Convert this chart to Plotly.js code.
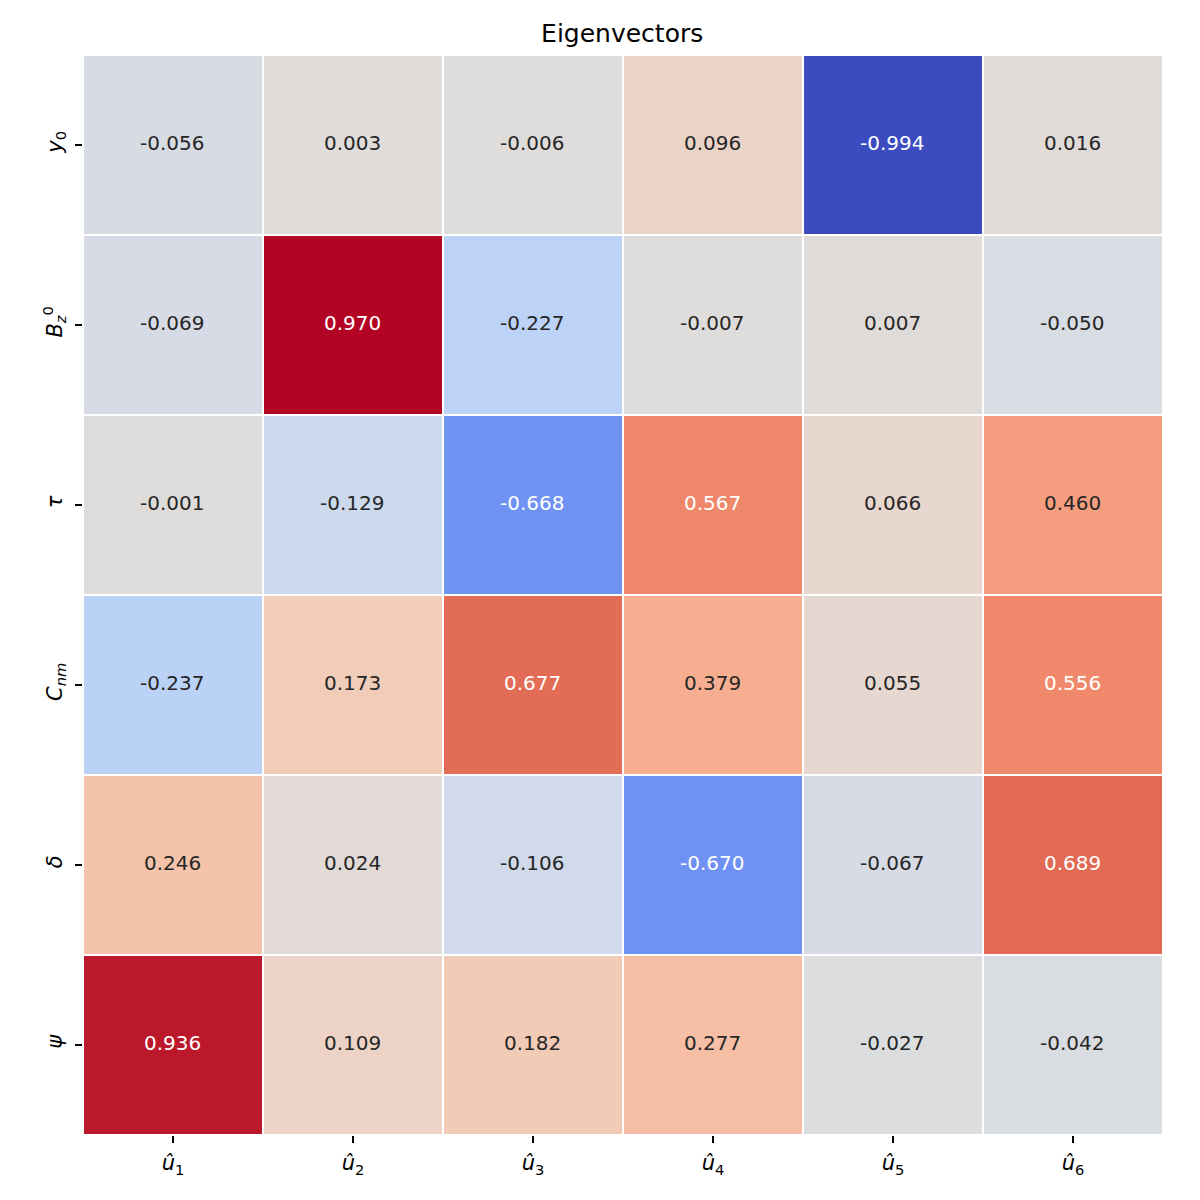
<!DOCTYPE html>
<html><head><meta charset="utf-8">
<script src="https://cdn.plot.ly/plotly-3.0.1.min.js"></script>
<style>body{margin:0;background:#fff}#c{width:1200px;height:1200px}</style>
</head><body><div id="c"></div>
<script>
const xLabels = ["<i>û</i><sub>1</sub>","<i>û</i><sub>2</sub>","<i>û</i><sub>3</sub>","<i>û</i><sub>4</sub>","<i>û</i><sub>5</sub>","<i>û</i><sub>6</sub>"];
const yLabels = ["<i>y</i><sub>0</sub>","<i>B</i><sub><i>z</i></sub><sup>0</sup>","<i>τ</i>","<i>C</i><sub><i>nm</i></sub>","<i>δ</i>","<i>ψ</i>"];
const row_y0  = [-0.056, 0.003, -0.006, 0.096, -0.994, 0.016];
const row_Bz  = [-0.069, 0.970, -0.227, -0.007, 0.007, -0.050];
const row_tau = [-0.001, -0.129, -0.668, 0.567, 0.066, 0.460];
const row_Cnm = [-0.237, 0.173, 0.677, 0.379, 0.055, 0.556];
const row_del = [0.246, 0.024, -0.106, -0.670, -0.067, 0.689];
const row_psi = [0.936, 0.109, 0.182, 0.277, -0.027, -0.042];
const z = [row_y0,row_Bz,row_tau,row_Cnm,row_del,row_psi];

const coolwarm = [[59,76,192],[68,90,204],[77,104,215],[87,117,225],[98,130,234],[108,142,241],[119,154,247],[130,165,251],[141,176,254],[152,185,255],[163,194,255],[174,201,253],[184,208,249],[194,213,244],[204,217,238],[213,219,230],[221,221,221],[229,216,209],[236,211,197],[241,204,185],[245,196,173],[247,187,160],[247,177,148],[247,166,135],[244,154,123],[241,141,111],[236,127,99],[229,112,88],[222,96,77],[213,80,66],[203,62,56],[192,40,47],[180,4,38]];
const colorscale = coolwarm.map((c,i)=>[i/(coolwarm.length-1),`rgb(${c[0]},${c[1]},${c[2]})`]);

const idx = [0,1,2,3,4,5];
const annotations = [];
z.forEach((row,i)=>row.forEach((v,j)=>{
  annotations.push({x:j,y:i,xref:'x',yref:'y',text:v.toFixed(3),showarrow:false,xshift:-1,yshift:2,
    font:{family:'DejaVu Sans',size:20,color:Math.abs(v)>0.5?'#ffffff':'#262626'}});
}));

Plotly.newPlot('c',[{type:'heatmap',z:z,x:idx,y:idx,colorscale:colorscale,showscale:false,xgap:2,ygap:2,hoverinfo:'none'}],{
  width:1200,height:1200,paper_bgcolor:'#fff',plot_bgcolor:'#fff',
  margin:{l:83,r:37,t:55,b:65},
  font:{family:'DejaVu Sans',size:20,color:'#000'},
  title:{text:'Eigenvectors',x:0.5185,xanchor:'center',y:0.9725,yanchor:'middle',font:{family:'DejaVu Sans',size:25,color:'#000'}},
  xaxis:{tickvals:idx,ticktext:xLabels,ticks:'outside',ticklen:7,tickwidth:1.6,tickcolor:'#000',showgrid:false,zeroline:false,showline:false,range:[-0.5,5.5],tickfont:{size:21},ticklabelstandoff:2},
  yaxis:{tickvals:idx,ticktext:yLabels,ticks:'outside',ticklen:7,tickwidth:1.6,tickcolor:'#000',showgrid:false,zeroline:false,showline:false,range:[5.5,-0.5],tickangle:-90,tickfont:{size:21},ticklabelstandoff:5},
  annotations:annotations
},{displayModeBar:false});
</script></body></html>
